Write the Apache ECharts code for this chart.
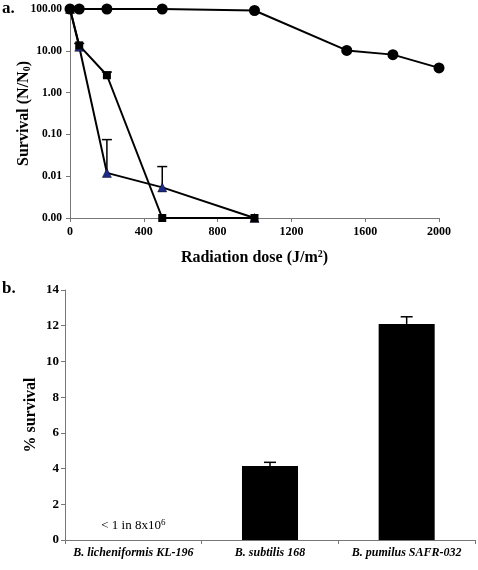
<!DOCTYPE html>
<html><head><meta charset="utf-8">
<script src="https://cdn.jsdelivr.net/npm/echarts@6/dist/echarts.min.js"></script>
<style>html,body{margin:0;padding:0;background:#fff}#c{width:478px;height:570px}</style>
</head><body><div id="c"></div>
<script>
// Panel a data
const doseTicks = [0, 400, 800, 1200, 1600, 2000];
const circleDose = [0, 50, 200, 500, 1000, 1500, 1750, 2000];
const circleSurv = [100, 100, 100, 100, 92, 10.2, 8.1, 3.9];
const squareDose = [0, 50, 200, 500, 1000];
const squareSurv = [100, 13.5, 2.6, 0.001, 0.001];
const squareErrHigh = [null, 15, 3.1, null, null];
const triDose = [0, 50, 200, 500, 1000];
const triSurv = [100, 12.5, 0.012, 0.0054, 0.001];
const triErrHigh = [null, null, 0.075, 0.017, null];
const survTicks = ['100.00', '10.00', '1.00', '0.10', '0.01', '0.00'];
// Panel b data
const strains = ['B. licheniformis KL-196', 'B. subtilis 168', 'B. pumilus SAFR-032'];
const pctSurvival = [0, 4.15, 12.1];
const pctErrHigh = [null, 4.35, 12.5];
const pctTicks = [0, 2, 4, 6, 8, 10, 12, 14];

const serif = '"Liberation Serif", "DejaVu Serif", serif';
const axisColor = '#777';

function errPairs(xs, ys, hs) {
  const out = [];
  xs.forEach((x, i) => { if (hs[i] != null) out.push([x, ys[i], hs[i]]); });
  return out;
}
function errRender(capHalf) {
  return function (params, api) {
    const p0 = api.coord([api.value(0), api.value(1)]);
    const p1 = api.coord([api.value(0), api.value(2)]);
    const st = { stroke: '#000', lineWidth: 1.5 };
    return { type: 'group', children: [
      { type: 'line', shape: { x1: p0[0], y1: p0[1], x2: p1[0], y2: p1[1] }, style: st },
      { type: 'line', shape: { x1: p1[0] - capHalf, y1: p1[1], x2: p1[0] + capHalf, y2: p1[1] }, style: st }
    ]};
  };
}
function zip(a, b) { return a.map((v, i) => [v, b[i]]); }

const chart = echarts.init(document.getElementById('c'), null, { renderer: 'canvas' });
chart.setOption({
  animation: false,
  backgroundColor: '#fff',
  textStyle: { fontFamily: serif },
  graphic: [
    { type: 'text', left: 2, top: 0, style: { text: 'a.', font: 'bold 17px ' + serif, fill: '#000' } },
    { type: 'text', left: 2, top: 280, style: { text: 'b.', font: 'bold 17px ' + serif, fill: '#000' } }
  ],
  grid: [
    { left: 70, top: 9, width: 369, height: 209 },
    { left: 65, top: 290, width: 410, height: 250 }
  ],
  xAxis: [
    { type: 'value', gridIndex: 0, min: doseTicks[0], max: doseTicks[doseTicks.length - 1], interval: 400,
      axisLine: { lineStyle: { color: axisColor, width: 1 } },
      axisTick: { show: true, length: 4, lineStyle: { color: axisColor } },
      splitLine: { show: false },
      axisLabel: { color: '#000', fontFamily: serif, fontWeight: 'bold', fontSize: 12, margin: 8, formatter: v => String(v) },
      name: 'Radiation dose (J/m{sup|2})', nameLocation: 'middle', nameGap: 31, nameMoveOverlap: false,
      nameTextStyle: { color: '#000', fontFamily: serif, fontWeight: 'bold', fontSize: 16,
        rich: { sup: { fontSize: 10, fontWeight: 'bold', fontFamily: serif, verticalAlign: 'top', padding: [0, 0, 8, 0] } } }
    },
    { type: 'category', gridIndex: 1, data: strains,
      axisLine: { lineStyle: { color: axisColor, width: 1 } },
      axisTick: { show: true, length: 4, alignWithLabel: false, lineStyle: { color: axisColor } },
      axisLabel: { color: '#000', fontFamily: serif, fontWeight: 'bold', fontStyle: 'italic', fontSize: 12, margin: 7, interval: 0 }
    }
  ],
  yAxis: [
    { type: 'log', gridIndex: 0, logBase: 10, min: 0.001, max: 100,
      axisLine: { show: true, lineStyle: { color: axisColor, width: 1 } },
      axisTick: { show: true, length: 4, lineStyle: { color: axisColor } },
      splitLine: { show: false },
      axisLabel: { color: '#000', fontFamily: serif, fontWeight: 'bold', fontSize: 11.5, margin: 8,
        formatter: v => survTicks[Math.round(2 - Math.log10(v))] },
      name: 'Survival (N/N{sub|0})', nameLocation: 'middle', nameGap: 38, nameRotate: 90, nameMoveOverlap: false,
      nameTextStyle: { color: '#000', fontFamily: serif, fontWeight: 'bold', fontSize: 16,
        rich: { sub: { fontSize: 10, fontWeight: 'bold', fontFamily: serif, verticalAlign: 'bottom', padding: [6, 0, 0, 0] } } }
    },
    { type: 'value', gridIndex: 1, min: pctTicks[0], max: pctTicks[pctTicks.length - 1], interval: 2,
      axisLine: { show: true, lineStyle: { color: axisColor, width: 1 } },
      axisTick: { show: true, length: 4, lineStyle: { color: axisColor } },
      splitLine: { show: false },
      axisLabel: { color: '#000', fontFamily: serif, fontWeight: 'bold', fontSize: 13, margin: 6 },
      name: '% survival', nameLocation: 'middle', nameGap: 26, nameRotate: 90, nameMoveOverlap: false,
      nameTextStyle: { color: '#000', fontFamily: serif, fontWeight: 'bold', fontSize: 16 }
    }
  ],
  series: [
    { type: 'custom', xAxisIndex: 0, yAxisIndex: 0, renderItem: errRender(5), data: errPairs(squareDose, squareSurv, squareErrHigh), z: 1 },
    { type: 'custom', xAxisIndex: 0, yAxisIndex: 0, renderItem: errRender(5), data: errPairs(triDose, triSurv, triErrHigh), z: 1 },
    { type: 'line', xAxisIndex: 0, yAxisIndex: 0, data: zip(triDose, triSurv), symbol: 'triangle', symbolSize: 9,
      lineStyle: { color: '#000', width: 2 }, itemStyle: { color: '#1c2b8a', borderColor: '#000', borderWidth: 0.5 }, z: 2 },
    { type: 'line', xAxisIndex: 0, yAxisIndex: 0, data: zip(squareDose, squareSurv), symbol: 'rect', symbolSize: 8,
      lineStyle: { color: '#000', width: 2 }, itemStyle: { color: '#000' }, z: 3 },
    { type: 'line', xAxisIndex: 0, yAxisIndex: 0, data: zip(circleDose, circleSurv), symbol: 'circle', symbolSize: 11,
      lineStyle: { color: '#000', width: 2 }, itemStyle: { color: '#000' }, z: 4 },
    { type: 'bar', xAxisIndex: 1, yAxisIndex: 1, data: pctSurvival, barWidth: '41%',
      itemStyle: { color: '#000' },
      label: { show: true, position: 'top', distance: 6, color: '#000', fontFamily: serif, fontSize: 13,
        formatter: p => p.dataIndex === 0 ? '< 1 in 8x10{sup|6}' : '',
        rich: { sup: { fontSize: 9, fontFamily: serif, verticalAlign: 'top', padding: [0, 0, 7, 0] } } }
    },
    { type: 'custom', xAxisIndex: 1, yAxisIndex: 1, renderItem: errRender(6),
      data: strains.map((s, i) => pctErrHigh[i] != null ? [s, pctSurvival[i], pctErrHigh[i]] : null).filter(Boolean), z: 5 }
  ]
});
</script></body></html>
